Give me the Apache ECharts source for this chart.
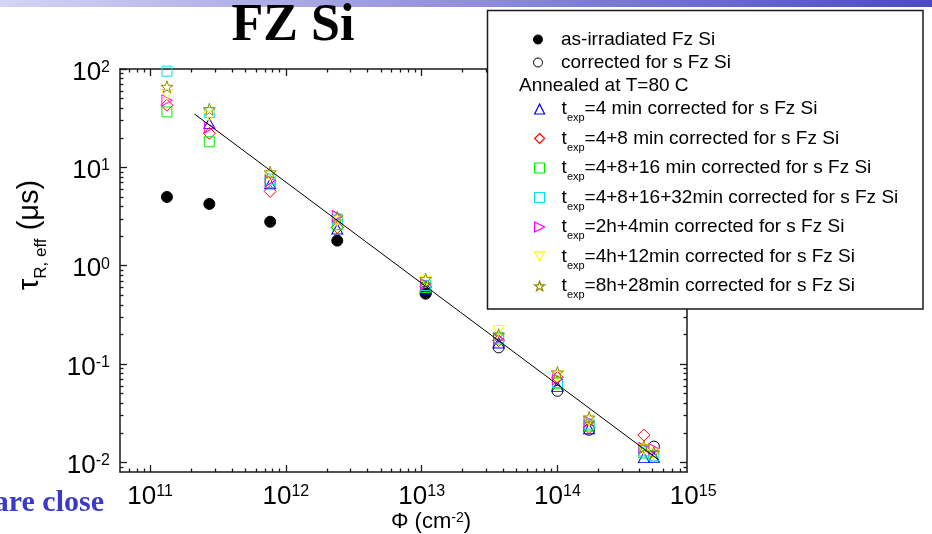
<!DOCTYPE html>
<html><head><meta charset="utf-8">
<script src="https://cdn.jsdelivr.net/npm/echarts@6/dist/echarts.min.js"></script>
<style>html,body{margin:0;padding:0;background:#fff;overflow:hidden}#c{width:932px;height:534px}</style>
</head><body><div id="c"></div><script>
// ---------- data ----------
const phiIrr  = [1.33e11, 2.73e11, 7.66e11, 2.39e12, 1.07e13];
const tauIrr  = [5.0, 4.25, 2.8, 1.8, 0.52];
const phiCorr = [1.07e13, 3.69e13, 1.0e14, 1.71e14, 5.13e14];
const tauCorr = [0.55, 0.148, 0.0535, 0.0215, 0.0145];

const phi4 = [2.73e11, 7.66e11, 2.39e12, 1.07e13, 3.69e13, 1.0e14, 1.71e14, 4.33e14, 5.13e14];
const tau4 = [28, 6.8, 2.36, 0.58, 0.164, 0.059, 0.022, 0.0112, 0.0113];
const phi4_8 = [1.33e11, 2.73e11, 7.66e11, 2.39e12, 1.07e13, 3.69e13, 1.0e14, 1.71e14, 4.33e14];
const tau4_8 = [42.8, 22.2, 5.7, 2.45, 0.61, 0.173, 0.073, 0.0226, 0.019];
const phi4_8_16 = [1.33e11, 2.73e11, 7.66e11, 2.39e12, 1.07e13, 3.69e13, 1.0e14, 1.71e14, 4.33e14];
const tau4_8_16 = [36.6, 18.2, 7.0, 2.61, 0.60, 0.18, 0.064, 0.0235, 0.0125];
const phi4_8_16_32 = [1.33e11, 2.73e11, 7.66e11, 2.39e12, 1.07e13, 3.69e13, 1.0e14, 1.71e14, 4.33e14, 5.13e14];
const tau4_8_16_32 = [95, 36, 7.6, 2.99, 0.63, 0.187, 0.065, 0.0245, 0.0131, 0.0117];
const phi2h4 = [1.33e11, 2.73e11, 7.66e11, 2.39e12, 1.07e13, 3.69e13, 1.0e14, 1.71e14, 4.33e14, 5.13e14];
const tau2h4 = [48, 25.4, 7.3, 3.2, 0.65, 0.18, 0.0703, 0.026, 0.014, 0.0137];
const phi4h12 = [1.33e11, 2.73e11, 7.66e11, 2.39e12, 1.07e13, 3.69e13, 1.0e14, 1.71e14, 4.33e14, 5.13e14];
const tau4h12 = [55, 33.3, 8.2, 2.87, 0.69, 0.218, 0.0748, 0.0265, 0.0135, 0.0121];
const phi8h28 = [1.33e11, 2.73e11, 7.66e11, 2.39e12, 1.07e13, 3.69e13, 1.0e14, 1.71e14, 4.33e14, 5.13e14];
const tau8h28 = [66, 38.9, 8.9, 3.1, 0.73, 0.199, 0.0822, 0.0286, 0.0145, 0.0126];

const fitPhi = [2.12e11, 5.57e14];
const fitTau = [34.9, 0.0106];

// ---------- ticks ----------
const xMajorTicks = [1e11, 1e12, 1e13, 1e14];
const xLabelTicks = [1e11, 1e12, 1e13, 1e14, 1e15];
const xMinorTicks = [7e10, 8e10, 9e10,
  2e11, 3e11, 4e11, 5e11, 6e11, 7e11, 8e11, 9e11,
  2e12, 3e12, 4e12, 5e12, 6e12, 7e12, 8e12, 9e12,
  2e13, 3e13, 4e13, 5e13, 6e13, 7e13, 8e13, 9e13,
  2e14, 3e14, 4e14, 5e14, 6e14, 7e14, 8e14];
const yMajorTicks = [0.01, 0.1, 1, 10, 100];
const yMinorTicks = [0.009,
  0.02, 0.03, 0.04, 0.05, 0.06, 0.07, 0.08, 0.09,
  0.2, 0.3, 0.4, 0.5, 0.6, 0.7, 0.8, 0.9,
  2, 3, 4, 5, 6, 7, 8, 9,
  20, 30, 40, 50, 60, 70, 80, 90];

// ---------- texts ----------
const nameIrr = 'as-irradiated Fz Si';
const nameCorr = 'corrected for s Fz Si';
const annealHeader = 'Annealed at T=80 C';
const annealNames = ['=4 min corrected for s Fz Si', '=4+8 min corrected for s Fz Si',
  '=4+8+16 min corrected for s Fz Si', '=4+8+16+32min corrected for s Fz Si',
  '=2h+4min corrected for s Fz Si', '=4h+12min corrected for s Fz Si', '=8h+28min corrected for s Fz Si'];
const titleText = 'FZ Si';

// ---------- chart ----------
const SANS = 'Liberation Sans';
const SERIF = 'Liberation Serif';
const AX = '#1a1a1a';
const XMIN = 6e10, XMAX = 9e14, XLABMAX = 1.02e15, YMIN = 0.008, YMAX = 100;
const STAR = 'path://M0,-10 L2.35,-3.24 L9.51,-3.09 L3.8,1.24 L5.88,8.09 L0,4 L-5.88,8.09 L-3.8,1.24 L-9.51,-3.09 L-2.35,-3.24 Z';
const TRI_RIGHT = 'path://M0,0 L10,5 L0,10 Z';
const TRI_DOWN = 'path://M0,0 L11,0 L5.5,10 Z';

// grid geometry (plot frame)
const GL = 120, GT = 69, GR = 687, GB = 472;
const pxPerDecade = (GR - GL) / (Math.log10(XMAX) - Math.log10(XMIN));
const labRight = GL + pxPerDecade * (Math.log10(XLABMAX) - Math.log10(XMIN));

const powRich = {
  b: {fontSize: 26, lineHeight: 26, fontFamily: SANS, color: '#000', verticalAlign: 'bottom'},
  s: {fontSize: 16, lineHeight: 16, fontFamily: SANS, color: '#000', verticalAlign: 'top'}
};
function powLabel(v) { return '{b|10}{s|' + Math.round(Math.log10(v)) + '}'; }

function xAx(pos, ticks, len, line) {
  return {type: 'log', gridIndex: 0, min: XMIN, max: XMAX, position: pos, offset: 0,
    axisLine: {show: line, lineStyle: {color: AX, width: 1.5}},
    axisTick: {show: true, inside: true, length: len, customValues: ticks, lineStyle: {color: AX, width: 1.3}},
    axisLabel: {show: false}, splitLine: {show: false}, minorTick: {show: false}};
}
function yAx(pos, ticks, len, line, labels) {
  return {type: 'log', gridIndex: 0, min: YMIN, max: YMAX, position: pos, offset: 0,
    axisLine: {show: line, lineStyle: {color: AX, width: 1.5}},
    axisTick: {show: true, inside: true, length: len, customValues: ticks, lineStyle: {color: AX, width: 1.3}},
    axisLabel: labels ? {show: true, customValues: yMajorTicks, formatter: powLabel, rich: powRich,
      margin: 10, padding: [7, 0, 0, 0]} : {show: false},
    splitLine: {show: false}, minorTick: {show: false}};
}

function sc(name, phi, tau, symbol, size, stroke, fill) {
  return {type: 'scatter', name: name, xAxisIndex: 0, yAxisIndex: 0,
    data: phi.map((p, i) => [p, tau[i]]),
    symbol: symbol, symbolSize: size,
    itemStyle: {color: fill, borderColor: stroke, borderWidth: 1, opacity: 1},
    emphasis: {disabled: true}, silent: true, animation: false};
}
const NONE = 'rgba(255,255,255,0)';
const annealPhi = [phi4, phi4_8, phi4_8_16, phi4_8_16_32, phi2h4, phi4h12, phi8h28];
const annealTau = [tau4, tau4_8, tau4_8_16, tau4_8_16_32, tau2h4, tau4h12, tau8h28];
const annealSym = ['triangle', 'diamond', 'rect', 'rect', TRI_RIGHT, TRI_DOWN, STAR];
const annealSize = [[11, 10], 12, 10, 10, [10, 11], [11, 10], 12];
const annealColor = ['#0000ff', '#ff0000', '#00ee00', '#00e0f0', '#ff00ff', '#ffff00', '#8c8c00'];
const annealFull = annealNames.map(n => 'texp' + n);

const series = [
  sc(nameIrr, phiIrr, tauIrr, 'circle', 11, '#000', '#000'),
  sc(nameCorr, phiCorr, tauCorr, 'circle', 11, '#000', NONE)
];
annealFull.forEach((n, i) => series.push(sc(n, annealPhi[i], annealTau[i], annealSym[i], annealSize[i], annealColor[i], NONE)));
series.push({type: 'line', name: 'fit', xAxisIndex: 0, yAxisIndex: 0, data: fitPhi.map((p, i) => [p, fitTau[i]]),
  symbol: 'none', lineStyle: {color: '#000', width: 1}, silent: true, z: 5, animation: false});

const LF = 19;
const legRich = {
  t: {fontSize: LF, lineHeight: 29, fontFamily: SANS, color: '#000', verticalAlign: 'middle'},
  s: {fontSize: 11, lineHeight: 11, fontFamily: SANS, color: '#000', verticalAlign: 'bottom'},
  n: {fontSize: LF, lineHeight: 29, fontFamily: SANS, color: '#000', verticalAlign: 'middle'}
};

const option = {
  animation: false,
  backgroundColor: '#fff',
  grid: [
    {left: GL, top: GT, right: 932 - GR, bottom: 534 - GB, containLabel: false, outerBoundsMode: 'none'},
    {left: GL, top: GT, right: 932 - labRight, bottom: 534 - GB, containLabel: false, outerBoundsMode: 'none'}
  ],
  xAxis: [
    xAx('bottom', xMajorTicks, 7, true),
    xAx('bottom', xMinorTicks, 3.5, false),
    xAx('top', xMajorTicks, 7, true),
    xAx('top', xMinorTicks, 3.5, false),
    {type: 'log', gridIndex: 1, min: XMIN, max: XLABMAX, position: 'bottom',
      axisLine: {show: false}, axisTick: {show: false}, splitLine: {show: false},
      axisLabel: {show: true, customValues: xLabelTicks, formatter: powLabel, rich: powRich, margin: 12,
        showMinLabel: true, showMaxLabel: true, hideOverlap: false}}
  ],
  yAxis: [
    yAx('left', yMajorTicks, 7, true, true),
    yAx('left', yMinorTicks, 3.5, false, false),
    yAx('right', yMajorTicks, 7, true, false),
    yAx('right', yMinorTicks, 3.5, false, false),
    {type: 'log', gridIndex: 1, min: YMIN, max: YMAX, show: false}
  ],
  legend: [
    {data: [nameIrr, nameCorr], orient: 'vertical', left: 533, top: 29, padding: 0,
      itemWidth: 10, itemHeight: 9, itemGap: 2, selectedMode: false, z: 20,
      itemStyle: {borderWidth: 1},
      textStyle: {fontSize: LF, lineHeight: 21, fontFamily: SANS, color: '#000', padding: [0, 0, 0, 13]}},
    {data: annealFull, orient: 'vertical', left: 534, top: 99.5, padding: 0,
      itemWidth: 10, itemHeight: 10, itemGap: 5.5, selectedMode: false, z: 20,
      itemStyle: {borderWidth: 1.2},
      formatter: n => '{t|t}{s|exp}{n|' + n.slice(4) + '}',
      textStyle: {rich: legRich, fontSize: LF, fontFamily: SANS, color: '#000', padding: [0, 0, 0, 12]}}
  ],
  graphic: [
    {type: 'rect', z: 15, shape: {x: 0, y: 0, width: 932, height: 7},
      style: {fill: new echarts.graphic.LinearGradient(0, 0, 1, 0, [{offset: 0, color: '#d4d4f4'}, {offset: 1, color: '#4a4ac4'}])}},
    {type: 'rect', z: 15, shape: {x: 487.5, y: 10.5, width: 435.5, height: 298.5},
      style: {fill: '#fff', stroke: AX, lineWidth: 1.5}},
    {type: 'text', z: 21, x: 519, y: 85.5,
      style: {text: annealHeader, fontSize: LF, fontFamily: SANS, fill: '#000', textAlign: 'left', textVerticalAlign: 'middle'}},
    {type: 'text', z: 21, x: 293, y: 27,
      style: {text: titleText, fontSize: 52, fontWeight: 'bold', fontFamily: SERIF, fill: '#000', textAlign: 'center', textVerticalAlign: 'middle'}},
    {type: 'text', z: 21, x: 30, y: 235, rotation: Math.PI / 2,
      style: {text: '{m|τ}{s|R, eff}{m| (μs)}', textAlign: 'center', textVerticalAlign: 'middle',
        rich: {m: {fontSize: 29, lineHeight: 40, fontFamily: SANS, fill: '#000', verticalAlign: 'middle'},
               s: {fontSize: 17, lineHeight: 17, fontFamily: SANS, fill: '#000', verticalAlign: 'bottom'}}}},
    {type: 'text', z: 21, x: 431, y: 522,
      style: {text: '{m|Φ (cm}{s|-2}{m|)}', textAlign: 'center', textVerticalAlign: 'middle',
        rich: {m: {fontSize: 22, lineHeight: 22, fontFamily: SANS, fill: '#000', verticalAlign: 'bottom'},
               s: {fontSize: 14, lineHeight: 14, fontFamily: SANS, fill: '#000', verticalAlign: 'top'}}}},
    {type: 'text', z: 21, x: 104, y: 503,
      style: {text: 'are close', fontSize: 30, fontWeight: 'bold', fontFamily: SERIF, fill: '#3a3ac8', textAlign: 'right', textVerticalAlign: 'middle'}}
  ],
  series: series
};
const chart = echarts.init(document.getElementById('c'), null, {renderer: 'canvas'});
chart.setOption(option);
</script></body></html>
